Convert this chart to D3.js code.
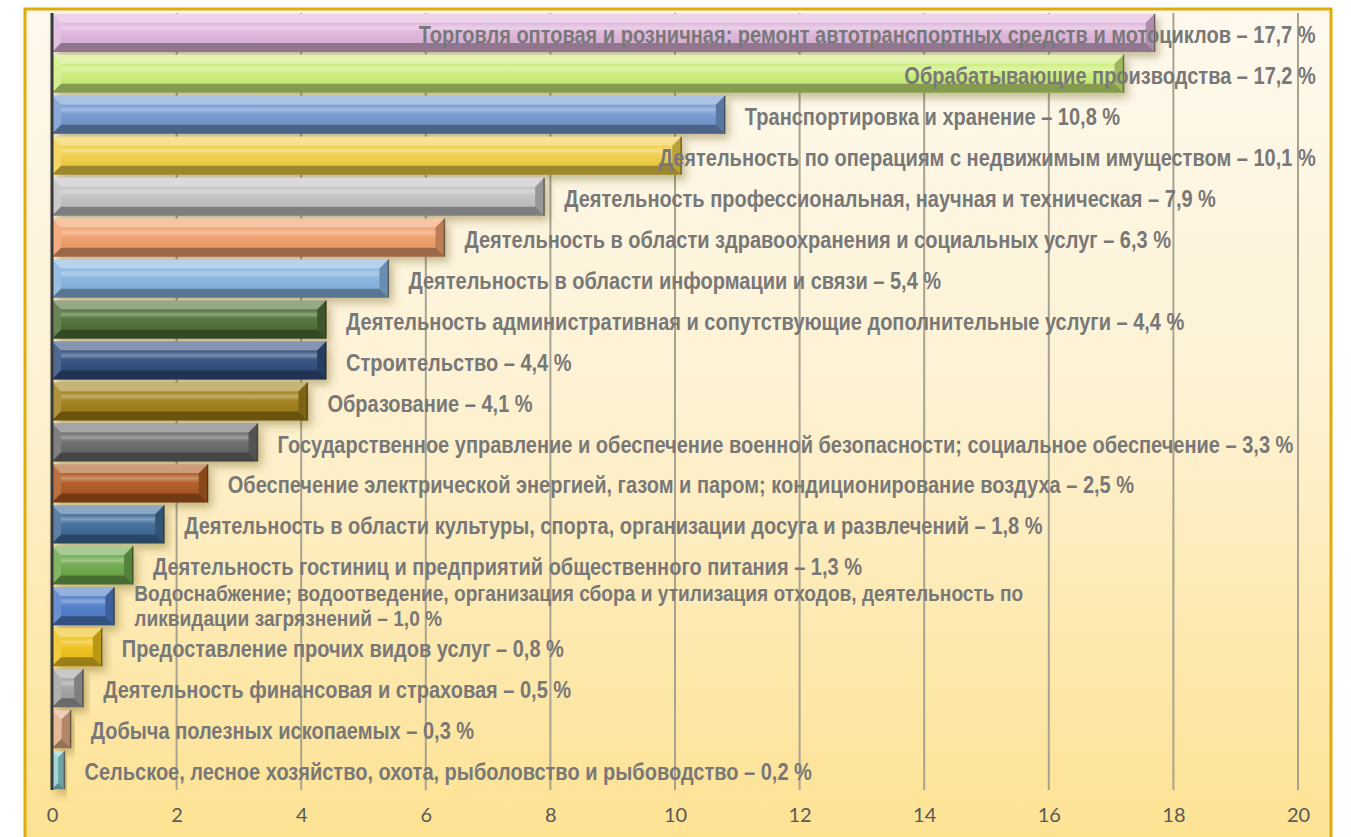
<!DOCTYPE html>
<html>
<head>
<meta charset="utf-8">
<script src="https://cdn.jsdelivr.net/npm/d3@7"></script>
<style>
  body { margin: 0; background: #fff; }
  svg { display: block; }
  .lbl { font-family: 'Liberation Sans', Arial, sans-serif; font-weight: bold; fill: #787878; }
  .x-axis text { font-family: Lato, 'Open Sans', sans-serif; font-size: 20px; fill: #595959; }
</style>
</head>
<body>
<svg id="chart"></svg>
<script>
// Data (share of sectors, %)
const categories = [
  'Торговля оптовая и розничная; ремонт автотранспортных средств и мотоциклов',
  'Обрабатывающие производства',
  'Транспортировка и хранение',
  'Деятельность по операциям с недвижимым имуществом',
  'Деятельность профессиональная, научная и техническая',
  'Деятельность в области здравоохранения и социальных услуг',
  'Деятельность в области информации и связи',
  'Деятельность административная и сопутствующие дополнительные услуги',
  'Строительство',
  'Образование',
  'Государственное управление и обеспечение военной безопасности; социальное обеспечение',
  'Обеспечение электрической энергией, газом и паром; кондиционирование воздуха',
  'Деятельность в области культуры, спорта, организации досуга и развлечений',
  'Деятельность гостиниц и предприятий общественного питания',
  'Водоснабжение; водоотведение, организация сбора и утилизация отходов, деятельность по\nликвидации загрязнений',
  'Предоставление прочих видов услуг',
  'Деятельность финансовая и страховая',
  'Добыча полезных ископаемых',
  'Сельское, лесное хозяйство, охота, рыболовство и рыбоводство'
];
const values = [17.7, 17.2, 10.8, 10.1, 7.9, 6.3, 5.4, 4.4, 4.4, 4.1, 3.3, 2.5, 1.8, 1.3, 1.0, 0.8, 0.5, 0.3, 0.2];
const xTicks = [0, 2, 4, 6, 8, 10, 12, 14, 16, 18, 20];

const barColors = ['#dfb6dc', '#cdee7c', '#7499d0', '#f1cf48', '#c2c2c2', '#f19f6c', '#88b6e0',
  '#4f7038', '#324f7e', '#a1801a', '#6a6a6a', '#b05a22', '#3f6c99', '#6ea84c', '#4f7dc9',
  '#f0c21c', '#a3a3a3', '#e4ad87', '#8fcfd2'];

const data = categories.map((c, i) => ({ name: c, value: values[i], color: barColors[i] }));

const W = 1351, H = 837;
const frame = { left: 25, top: 9, right: 1331 };

const svg = d3.select('#chart').attr('width', W).attr('height', H);
const defs = svg.append('defs');

// background gradient
const bg = defs.append('linearGradient').attr('id', 'bg').attr('x1', 0).attr('y1', 0).attr('x2', 0).attr('y2', 1);
bg.append('stop').attr('offset', '0%').attr('stop-color', '#fef9ee');
bg.append('stop').attr('offset', '45%').attr('stop-color', '#fdf2d4');
bg.append('stop').attr('offset', '100%').attr('stop-color', '#fde292');

// soft highlight on the face of each bar
const face = defs.append('linearGradient').attr('id', 'face').attr('x1', 0).attr('y1', 0).attr('x2', 0).attr('y2', 1);
face.append('stop').attr('offset', '0%').attr('stop-color', '#fff').attr('stop-opacity', 0);
face.append('stop').attr('offset', '25%').attr('stop-color', '#fff').attr('stop-opacity', 0.35);
face.append('stop').attr('offset', '45%').attr('stop-color', '#fff').attr('stop-opacity', 0.05);
face.append('stop').attr('offset', '100%').attr('stop-color', '#000').attr('stop-opacity', 0.04);

const shadow = defs.append('filter').attr('id', 'shadow').attr('x', '-10%').attr('y', '-30%').attr('width', '130%').attr('height', '180%');
shadow.append('feDropShadow').attr('dx', 4).attr('dy', 5).attr('stdDeviation', 4)
  .attr('flood-color', '#5a4a10').attr('flood-opacity', 0.35);

svg.append('rect')
  .attr('x', frame.left).attr('y', frame.top)
  .attr('width', frame.right - frame.left).attr('height', H)
  .attr('fill', 'url(#bg)')
  .attr('stroke', '#e1ab0c').attr('stroke-width', 3);

// scales
const xScale = d3.scaleLinear().domain([0, 20]).range([52, 1298]);
const yScale = d3.scaleBand().domain(categories).range([13, 790]).paddingInner(0.07).paddingOuter(0.02);

// gridlines
svg.append('g').selectAll('line')
  .data(xTicks.filter(d => d > 0))
  .join('line')
  .attr('x1', d => xScale(d)).attr('x2', d => xScale(d))
  .attr('y1', 13).attr('y2', 790)
  .attr('stroke', '#a8a290').attr('stroke-width', 2);

// x axis (labels only)
const xAxis = d3.axisBottom(xScale).tickValues(xTicks).tickSize(0).tickPadding(0).tickFormat(d3.format('d'));
const xAxisG = svg.append('g').attr('class', 'axis x-axis')
  .attr('transform', 'translate(0,808)')
  .call(xAxis);
xAxisG.select('.domain').remove();

// bars
const bevel = 9;
const barG = svg.append('g').selectAll('g.bar')
  .data(data)
  .join('g')
  .attr('class', 'bar')
  .attr('filter', 'url(#shadow)');

barG.each(function(d) {
  const g = d3.select(this);
  const x0 = xScale(0), x1 = xScale(d.value);
  const y0 = yScale(d.name), y1 = y0 + yScale.bandwidth();
  const b = Math.min(bevel, (x1 - x0) / 2);
  g.append('rect').attr('x', x0).attr('y', y0).attr('width', x1 - x0).attr('height', y1 - y0).attr('fill', d.color);
  g.append('rect').attr('x', x0 + b).attr('y', y0 + b).attr('width', Math.max(0, x1 - x0 - 2 * b)).attr('height', y1 - y0 - 2 * b).attr('fill', 'url(#face)');
  const poly = (pts, fill, op) => g.append('polygon')
    .attr('points', pts.map(p => p.join(',')).join(' '))
    .attr('fill', fill).attr('fill-opacity', op);
  poly([[x0, y0], [x1, y0], [x1 - b, y0 + b], [x0 + b, y0 + b]], '#fff', 0.4);
  poly([[x0, y1], [x1, y1], [x1 - b, y1 - b], [x0 + b, y1 - b]], '#000', 0.35);
  poly([[x1, y0], [x1, y1], [x1 - b, y1 - b], [x1 - b, y0 + b]], '#000', 0.22);
  poly([[x0, y0], [x0, y1], [x0 + b, y1 - b], [x0 + b, y0 + b]], '#fff', 0.15);
  g.append('line').attr('x1', x1).attr('x2', x1).attr('y1', y0).attr('y2', y1)
    .attr('stroke', '#000').attr('stroke-opacity', 0.45).attr('stroke-width', 1.5);
});

// zero axis line
svg.append('line')
  .attr('x1', xScale(0)).attr('x2', xScale(0))
  .attr('y1', 13).attr('y2', 790)
  .attr('stroke', '#3a3a3a').attr('stroke-width', 3);

// value labels: tall narrow type, so squeeze the glyphs horizontally
const fmt = v => d3.format('.1f')(v).replace('.', ',');
const labelRight = 1316;
const squeeze = 0.87;
const labels = svg.append('g').selectAll('text')
  .data(data)
  .join('text')
  .attr('class', 'lbl')
  .attr('font-size', d => d.name.includes('\n') ? 22 : 23);

labels.each(function(d) {
  const t = d3.select(this);
  const lines = (d.name + ' – ' + fmt(d.value) + ' %').split('\n');
  lines.forEach((ln, i) => {
    t.append('tspan')
      .attr('x', 0)
      .attr('dy', lines.length > 1 ? (i === 0 ? '-0.35em' : '1.15em') : '0.35em')
      .text(ln);
  });
  let w = 0;
  t.selectAll('tspan').each(function() { w = Math.max(w, this.getComputedTextLength()); });
  w *= squeeze;
  let x = xScale(d.value) + 20;
  if (x + w > labelRight) x = labelRight - w;
  const y = yScale(d.name) + yScale.bandwidth() / 2 + 2;
  t.attr('transform', `translate(${x},${y}) scale(${squeeze},1)`);
});
</script>
</body>
</html>
